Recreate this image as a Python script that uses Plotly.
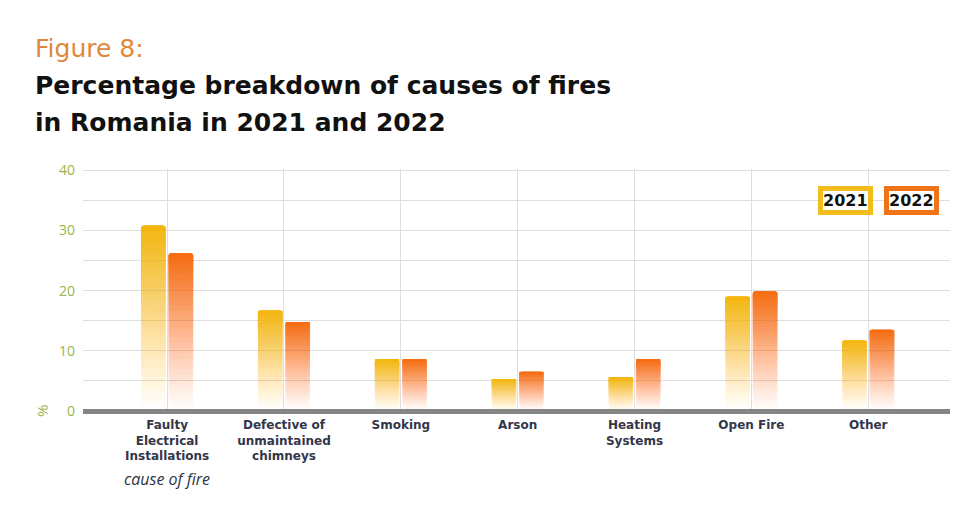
import plotly.graph_objects as go

# Chart data
causes = ["Faulty<br>Electrical<br>Installations", "Defective of<br>unmaintained<br>chimneys",
          "Smoking", "Arson", "Heating<br>Systems", "Open Fire", "Other"]
share_2021 = [30.8, 16.7, 8.6, 5.3, 5.6, 19.0, 11.7]
share_2022 = [26.2, 14.8, 8.6, 6.5, 8.6, 19.9, 13.5]
years = ["2021", "2022"]
y_ticks = [0, 10, 20, 30, 40]

COLORS = {"2021": (245, 183, 15), "2022": (247, 110, 18)}
BORDERS = {"2021": "#f2bc1b", "2022": "#f07318"}
N_SEG = 30

# the page body has an 8px margin, so figure coords = screen coords - 8
OFF = 8
W, H = 977, 506
L, T = 83 - OFF, 169 - OFF
R, B = W - (950 - OFF), H - (411 - OFF)
PLOT_W = W - L - R
PLOT_H = H - T - B


def px_x(p):
    return (p - OFF - L) / PLOT_W


def px_y(p):
    return (H - B - (p - OFF)) / PLOT_H


# per-slice opacity so that nested translucent bars give a bottom-to-top fade
target = [min(1.0, ((j + 0.5) / N_SEG) ** 1.1) for j in range(N_SEG)]
target[-1] = 1.0
slice_alpha = []
prev = 0.0
for a in target:
    slice_alpha.append(1 - (1 - a) / (1 - prev) if prev < 1 else 1.0)
    prev = a

fig = go.Figure()

for year, vals in zip(years, [share_2021, share_2022]):
    r, g, b = COLORS[year]
    for k in range(N_SEG):
        fig.add_trace(go.Bar(
            x=causes, y=[v * (1 - k / N_SEG) for v in vals], base=[v * k / N_SEG for v in vals],
            offsetgroup=year,
            marker=dict(color=f"rgba({r},{g},{b},{slice_alpha[k]:.4f})", line_width=0, cornerradius=4),
            showlegend=False, hoverinfo="skip" if k else None, name=year,
        ))

fig.update_layout(
    width=W, height=H,
    margin=dict(l=L, r=R, t=T, b=B),
    paper_bgcolor="white", plot_bgcolor="white",
    barmode="group", bargap=0.53, bargroupgap=0.1,
    font=dict(family="DejaVu Sans", color="#2e3245"),
)

fig.update_xaxes(
    range=[-0.72, 6.7], showgrid=True, gridcolor="#dedede", gridwidth=1,
    showline=False, ticks="", ticklabelstandoff=5,
    tickfont=dict(family="DejaVu Sans", size=12, color="#33364a", weight=700),
)
fig.update_yaxes(
    range=[0, 40.2], tickvals=y_ticks, showgrid=True, gridcolor="#dedede",
    minor=dict(dtick=5, showgrid=True, gridcolor="#dedede"),
    zeroline=True, zerolinecolor="#858585", zerolinewidth=5,
    ticklabelstandoff=7,
    tickfont=dict(family="Open Sans", size=14, color="#9bb44c", weight=500),
)

title_font = dict(family="DejaVu Sans", size=25, color="#111111", weight=700)
annotations = [
    dict(text="Figure 8:", x=px_x(33), y=px_y(48), xref="paper", yref="paper",
         xanchor="left", yanchor="middle", showarrow=False,
         font=dict(family="DejaVu Sans", size=25, color="#e0883a")),
    dict(text="Percentage breakdown of causes of fires", x=px_x(33), y=px_y(86),
         xref="paper", yref="paper", xanchor="left", yanchor="middle", showarrow=False,
         font=title_font),
    dict(text="in Romania in 2021 and 2022", x=px_x(33), y=px_y(122),
         xref="paper", yref="paper", xanchor="left", yanchor="middle", showarrow=False,
         font=title_font),
    dict(text="cause of fire", x=0, y=px_y(479), xref="x", yref="paper",
         xanchor="center", yanchor="middle", showarrow=False,
         font=dict(family="Open Sans", size=16, color="#2e3245", style="italic")),
    dict(text="%", x=px_x(42), y=0, xref="paper", yref="y", textangle=-90,
         xanchor="center", yanchor="middle", showarrow=False,
         font=dict(family="Open Sans", size=15, color="#9bb44c")),
]
for year, cx in zip(years, [845.5, 911]):
    annotations.append(dict(
        text=f"<b>{year}</b>", x=px_x(cx), y=px_y(200),
        xref="paper", yref="paper", xanchor="center", yanchor="middle", showarrow=False,
        bgcolor="white", bordercolor=BORDERS[year], borderwidth=5, borderpad=0,
        font=dict(family="DejaVu Sans", size=16, color="#111111"),
    ))
fig.update_layout(annotations=annotations)

fig.write_html("out.html")
